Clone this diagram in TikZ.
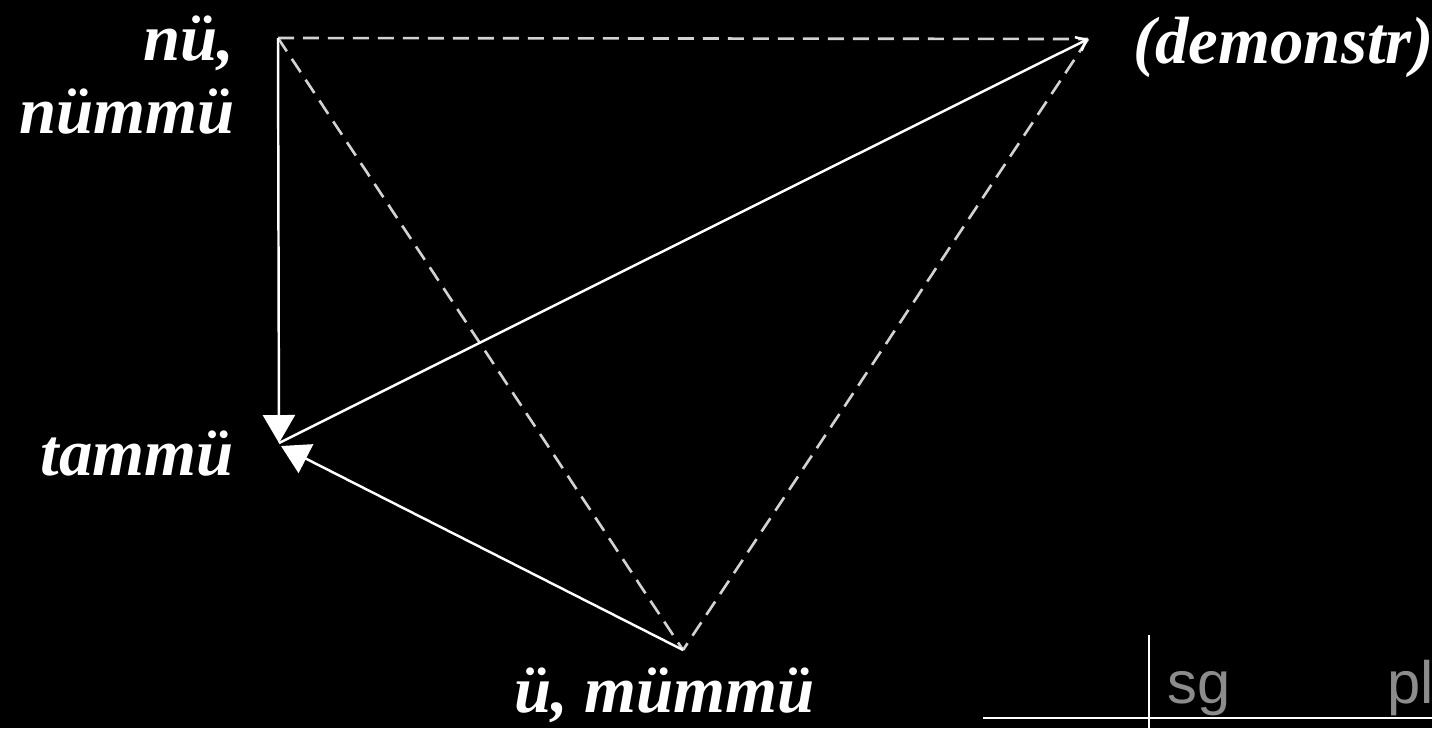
\documentclass[tikz,border=0pt]{standalone}
\usepackage{fontspec}
\setmainfont{Liberation Serif}
\setsansfont{Liberation Sans}
\usetikzlibrary{arrows.meta}
\definecolor{dashGray}{HTML}{D2D2D2}
\definecolor{tabGray}{HTML}{8C8C8C}

\tikzset{
  word/.style={font=\fontsize{38}{41}\selectfont\bfseries\itshape, text=white, inner sep=0pt},
  solidArrow/.style={white, line width=1.4pt},
  dashLine/.style={dashGray, line width=1.5pt, dash pattern=on 0.32cm off 0.18cm},
  tabLabel/.style={font=\sffamily\fontsize{34}{36}\selectfont, text=tabGray, inner sep=0pt},
  tabRule/.style={white, line width=1.1pt}
}

\begin{document}
\begin{tikzpicture}[x=0.02cm, y=-0.02cm]
  \fill[black] (0,0) rectangle (1432,728);
  \useasboundingbox (0,0) rectangle (1432,728);

  % Corners
  \coordinate (nuC) at (278,38);
  \coordinate (demC) at (1088,39);
  \coordinate (muC) at (683,650);
  \coordinate (taC) at (279,443);
  \coordinate (taD) at (281,446);

  % Labels
  \node[word, anchor=base east] (nuA) at (235,60) {nü,};
  \node[word, anchor=base east] (nuB) at (235,133) {nümmü};
  \node[word, anchor=base west] (dem) at (1133,63) {(demonstr)};
  \node[word, anchor=base east] (ta) at (234,475) {tammü};
  \node[word, anchor=base west] (mu) at (514,712) {ü, mümmü};

  % Dashed triangle
  \draw[dashLine] (nuC) -- (demC);
  \draw[dashLine] (nuC) -- (muC);
  \draw[dashLine] (demC) -- (muC);

  % Arrows
  \draw[solidArrow, -{Triangle[length=0.56cm,width=0.64cm]}] (nuC) -- (taC);
  \draw[solidArrow, -{Triangle[length=0.56cm,width=0.64cm]}] (muC) -- (taD);
  \draw[solidArrow, -{Straight Barb[length=0.18cm,width=0.3cm]}] (taC) -- (demC);

  % Table corner
  \coordinate (tabTop) at (1149,635);
  \coordinate (tabBot) at (1149,728);
  \coordinate (tabL) at (983,718);
  \coordinate (tabR) at (1432,718);
  \draw[tabRule] (tabTop) -- (tabBot);
  \draw[tabRule] (tabL) -- (tabR);
  \node[tabLabel, anchor=base west] (sg) at (1167,703) {sg};
  \node[tabLabel, anchor=base west] (pl) at (1387,703) {pl};
\end{tikzpicture}
\end{document}
